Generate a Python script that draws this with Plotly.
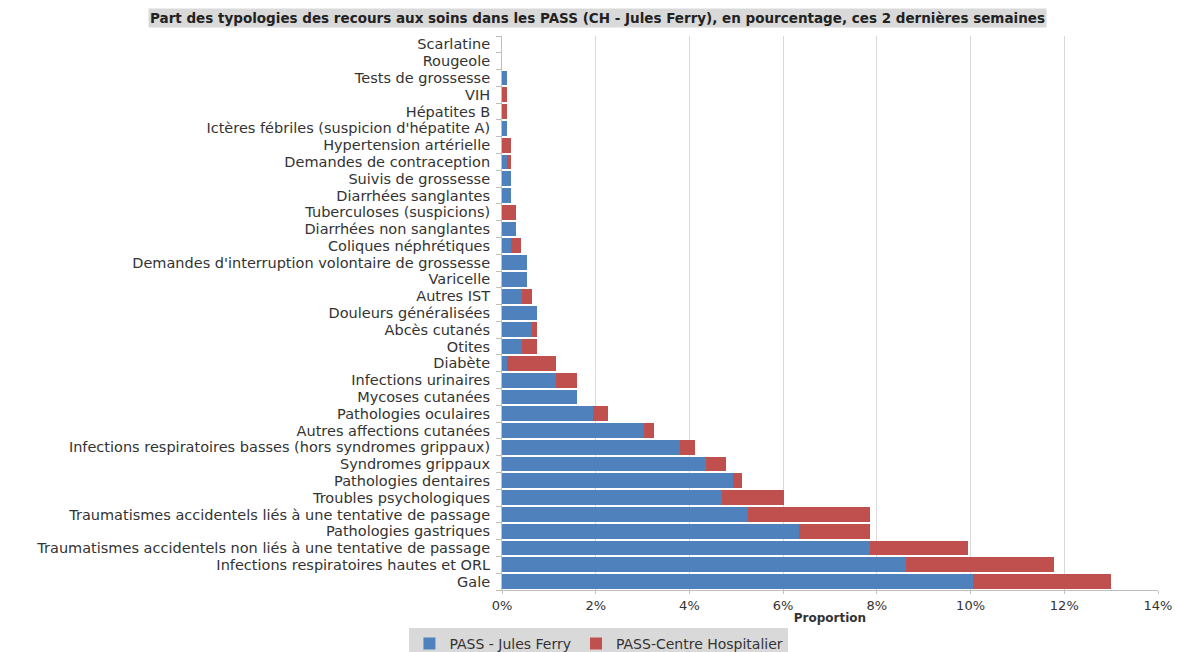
import plotly.graph_objects as go

categories = [
    "Scarlatine", "Rougeole", "Tests de grossesse", "VIH", "Hépatites B",
    "Ictères fébriles (suspicion d'hépatite A)", "Hypertension artérielle",
    "Demandes de contraception", "Suivis de grossesse", "Diarrhées sanglantes",
    "Tuberculoses (suspicions)", "Diarrhées non sanglantes", "Coliques néphrétiques",
    "Demandes d'interruption volontaire de grossesse", "Varicelle", "Autres IST",
    "Douleurs généralisées", "Abcès cutanés", "Otites", "Diabète",
    "Infections urinaires", "Mycoses cutanées", "Pathologies oculaires",
    "Autres affections cutanées",
    "Infections respiratoires basses (hors syndromes grippaux)",
    "Syndromes grippaux", "Pathologies dentaires", "Troubles psychologiques",
    "Traumatismes accidentels liés à une tentative de passage",
    "Pathologies gastriques",
    "Traumatismes accidentels non liés à une tentative de passage",
    "Infections respiratoires hautes et ORL", "Gale",
]

# Percent values
jules_ferry = [0, 0, 0.1, 0, 0, 0.1, 0, 0.1, 0.2, 0.2,
               0, 0.3, 0.2, 0.53, 0.53, 0.42, 0.74, 0.63, 0.42, 0.1,
               1.16, 1.6, 1.94, 3.03, 3.8, 4.35, 4.92, 4.69, 5.24, 6.34,
               7.86, 8.63, 10.06]
centre_hosp = [0, 0, 0, 0.1, 0.1, 0, 0.2, 0.1, 0, 0,
               0.3, 0, 0.21, 0, 0, 0.21, 0, 0.11, 0.32, 1.06,
               0.44, 0, 0.32, 0.21, 0.32, 0.44, 0.21, 1.32, 2.62, 1.52,
               2.08, 3.16, 2.94]

title_text = "Part des typologies des recours aux soins dans les PASS (CH - Jules Ferry), en pourcentage, ces 2 dernières semaines"
x_ticks = [0, 2, 4, 6, 8, 10, 12, 14]

fig = go.Figure()
fig.add_trace(go.Bar(
    y=categories, x=[v / 100 for v in jules_ferry], orientation="h",
    name="PASS - Jules Ferry", marker=dict(color="#4f81bd", line=dict(width=0)),
))
fig.add_trace(go.Bar(
    y=categories, x=[v / 100 for v in centre_hosp], orientation="h",
    name="PASS-Centre Hospitalier", marker=dict(color="#c0504d", line=dict(width=0)),
))

label_font = "DejaVu Sans"
fig.update_layout(
    barmode="stack",
    bargap=0.12,
    width=1179, height=652,
    margin=dict(l=502, r=21, t=36, b=62, autoexpand=False),
    paper_bgcolor="white", plot_bgcolor="white",
    font=dict(family=label_font, size=12, color="#333333"),
    showlegend=True,
    legend=dict(
        orientation="h", xref="container", yref="container",
        x=0.508, xanchor="center", y=0.037, yanchor="top",
        bgcolor="#d9d9d9", font=dict(family=label_font, size=14, color="#333333"),
        traceorder="normal", tracegroupgap=0,
    ),
    xaxis=dict(
        range=[0, 0.14], tickvals=[v / 100 for v in x_ticks],
        ticktext=[f"{v}%" for v in x_ticks],
        showgrid=True, gridcolor="#d9d9d9", gridwidth=1,
        zeroline=False, showline=True, linecolor="#bfbfbf", linewidth=1,
        ticks="outside", ticklen=3, tickcolor="#bfbfbf", automargin=False,
        tickfont=dict(family=label_font, size=13, color="#333333"),
        title=dict(text="<b>Proportion</b>",
                   font=dict(family=label_font, size=12, color="#333333"), standoff=2),
    ),
    yaxis=dict(
        autorange="reversed", type="category",
        tickmode="array", tickvals=categories, ticktext=categories,
        showline=True, linecolor="#bfbfbf", linewidth=1,
        ticks="outside", ticklen=5, tickcolor="#bfbfbf", tickson="boundaries",
        showgrid=False, automargin=False,
        tickfont=dict(family=label_font, size=14.5, color="#333333"),
        ticklabelstandoff=8,
    ),
    annotations=[dict(
        text="<b>" + title_text + "</b>", xref="paper", yref="paper",
        x=0.1463, y=1.0325, xanchor="center", yanchor="middle",
        showarrow=False, bgcolor="#d9d9d9",
        font=dict(size=13.5, color="#222222", family=label_font),
    )],
)

fig.write_html("out.html")
